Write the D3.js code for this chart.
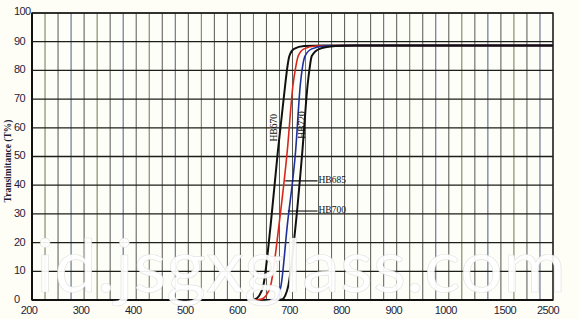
<!DOCTYPE html>
<html>
<head>
<meta charset="utf-8">
<script src="https://d3js.org/d3.v7.min.js"></script>
<style>
  body { margin: 0; background: #fffef6; }
  svg { display: block; }
</style>
</head>
<body>
<script>
  // tick values on the (piecewise) wavelength axis
  var xTicks = [200, 300, 400, 500, 600, 700, 800, 900, 1000, 1500, 2500];
  var yTicks = [0, 10, 20, 30, 40, 50, 60, 70, 80, 90, 100];

  // transmittance curves
  var hb670nm = [615, 628, 636, 644, 658, 672, 686, 690, 694, 703, 722, 760, 1000, 2500];
  var hb670t  = [0, 0.3, 1.5, 5, 26, 52, 75, 81, 85, 87.5, 88.5, 88.7, 88.7, 88.7];
  var hb685nm = [628, 641, 649, 658, 674, 690, 701, 706, 711, 722, 745, 790, 1000, 2500];
  var hb685t  = [0, 0.3, 1.5, 5, 26, 52, 75, 81, 85, 87.5, 88.5, 88.7, 88.7, 88.7];
  var hb700nm = [658, 668, 673, 678, 690, 706, 715, 719, 724, 737, 762, 800, 1000, 2500];
  var hb700t  = [0, 0.3, 1.5, 5, 26, 52, 75, 81, 85, 87.5, 88.5, 88.7, 88.7, 88.7];
  var hb720nm = [670, 681, 686, 692, 706, 719, 729, 733, 737, 752, 782, 820, 1000, 2500];
  var hb720t  = [0, 0.3, 1.5, 5, 26, 52, 75, 81, 85, 87.5, 88.5, 88.7, 88.7, 88.7];

  var series = [
    { name: "HB670", nm: hb670nm, t: hb670t, color: "#111" },
    { name: "HB685", nm: hb685nm, t: hb685t, color: "#d8261e" },
    { name: "HB700", nm: hb700nm, t: hb700t, color: "#1f2f9c" },
    { name: "HB720", nm: hb720nm, t: hb720t, color: "#111" }
  ];

  var W = 579, H = 319;
  var pLeft = 32, pRight = 553, pTop = 13, pBottom = 300;

  // the grid is uniform in pixels, but the wavelength steps change after 1000 and 1500
  var x = d3.scaleLinear()
    .domain([200, 1000, 1500, 2500])
    .range([pLeft, pLeft + (pRight - pLeft) * 32 / 40, pLeft + (pRight - pLeft) * 36 / 40, pRight]);
  var y = d3.scaleLinear().domain([0, 100]).range([pBottom, pTop]);

  var svg = d3.select("body").append("svg")
    .attr("width", W)
    .attr("height", H);

  svg.append("rect")
    .attr("x", pLeft).attr("y", pTop)
    .attr("width", pRight - pLeft).attr("height", pBottom - pTop)
    .attr("fill", "#fdfef8");

  // vertical grid: 25 nm up to 1000, then 125, then 250
  var vLines = d3.range(200, 1000, 25)
    .concat(d3.range(1000, 1500, 125))
    .concat(d3.range(1500, 2501, 250));
  var vColors = ["#3a3a34", "#5b6030", "#3a3a34", "#34406e"];

  svg.append("g").selectAll("line")
    .data(vLines)
    .enter().append("line")
    .attr("x1", function(d) { return x(d); })
    .attr("x2", function(d) { return x(d); })
    .attr("y1", pTop).attr("y2", pBottom)
    .attr("stroke", function(d, i) { return vColors[i % 4]; })
    .attr("stroke-width", 1)
    .attr("opacity", 0.85);

  svg.append("g").selectAll("line")
    .data(yTicks)
    .enter().append("line")
    .attr("x1", pLeft).attr("x2", pRight)
    .attr("y1", function(d) { return y(d); })
    .attr("y2", function(d) { return y(d); })
    .attr("stroke", "#1e1e18")
    .attr("stroke-width", 1.3);

  // frame
  svg.append("rect")
    .attr("x", pLeft).attr("y", pTop)
    .attr("width", pRight - pLeft).attr("height", pBottom - pTop)
    .attr("fill", "none")
    .attr("stroke", "#222")
    .attr("stroke-width", 1.4);
  svg.append("line")
    .attr("x1", pLeft).attr("x2", pLeft).attr("y1", pTop).attr("y2", pBottom)
    .attr("stroke", "#111").attr("stroke-width", 2);
  svg.append("line")
    .attr("x1", pLeft).attr("x2", pRight).attr("y1", pBottom).attr("y2", pBottom)
    .attr("stroke", "#111").attr("stroke-width", 2);

  // curves
  var line = d3.line()
    .x(function(d) { return x(d[0]); })
    .y(function(d) { return y(d[1]); })
    .curve(d3.curveMonotoneX);

  svg.append("g").selectAll("path")
    .data(series)
    .enter().append("path")
    .attr("d", function(s) { return line(d3.zip(s.nm, s.t)); })
    .attr("fill", "none")
    .attr("stroke", function(s) { return s.color; })
    .attr("stroke-width", function(s) { return s.color === "#111" ? 2 : 1.6; });

  // curve labels
  var rotLabels = [
    { text: "HB670", nm: 667, t: 60 },
    { text: "HB720", nm: 719, t: 61 }
  ];
  svg.append("g").selectAll("text")
    .data(rotLabels)
    .enter().append("text")
    .attr("transform", function(d) { return "translate(" + x(d.nm) + "," + y(d.t) + ") rotate(-90)"; })
    .attr("text-anchor", "middle")
    .attr("dominant-baseline", "middle")
    .attr("font-family", "Liberation Serif, serif")
    .attr("font-size", 9.5)
    .attr("fill", "#111")
    .text(function(d) { return d.text; });

  var leaders = [
    { text: "HB685", nm0: 686, nm1: 748, t: 41.5 },
    { text: "HB700", nm0: 691, nm1: 748, t: 31 }
  ];
  var lg = svg.append("g").selectAll("g")
    .data(leaders)
    .enter().append("g");
  lg.append("line")
    .attr("x1", function(d) { return x(d.nm0); })
    .attr("x2", function(d) { return x(d.nm1); })
    .attr("y1", function(d) { return y(d.t); })
    .attr("y2", function(d) { return y(d.t); })
    .attr("stroke", "#111")
    .attr("stroke-width", 1.1);
  lg.append("text")
    .attr("x", function(d) { return x(d.nm1) + 1; })
    .attr("y", function(d) { return y(d.t); })
    .attr("dominant-baseline", "middle")
    .attr("font-family", "Liberation Serif, serif")
    .attr("font-size", 9.5)
    .attr("fill", "#111")
    .text(function(d) { return d.text; });

  // axis labels
  var labelShift = { 1500: 4, 2500: -5 };
  svg.append("g").selectAll("text")
    .data(xTicks)
    .enter().append("text")
    .attr("x", function(d) { return x(d) + (labelShift[d] !== undefined ? labelShift[d] : -3); })
    .attr("y", 314)
    .attr("text-anchor", "middle")
    .attr("font-family", "Liberation Sans, Arial, sans-serif")
    .attr("font-size", 11)
    .attr("letter-spacing", -0.6)
    .attr("fill", "#1d1d3a")
    .text(function(d) { return d; });

  svg.append("g").selectAll("text")
    .data(yTicks)
    .enter().append("text")
    .attr("x", 14)
    .attr("y", function(d) { return y(d) + (d === 100 ? -1 : 0); })
    .attr("dominant-baseline", "middle")
    .attr("font-family", "Liberation Sans, Arial, sans-serif")
    .attr("font-size", 11)
    .attr("letter-spacing", -0.6)
    .attr("fill", "#1d1d3a")
    .text(function(d) { return d; });

  svg.append("text")
    .attr("transform", "translate(9,161) rotate(-90)")
    .attr("text-anchor", "middle")
    .attr("dominant-baseline", "middle")
    .attr("font-family", "Liberation Serif, serif")
    .attr("font-weight", "bold")
    .attr("font-size", 9.5)
    .attr("fill", "#1d1d3a")
    .text("Transimitance  (T%)");

  // watermark
  svg.append("text")
    .attr("x", 36)
    .attr("y", 292)
    .attr("textLength", 530)
    .attr("lengthAdjust", "spacingAndGlyphs")
    .attr("font-family", "Lato, Liberation Sans, sans-serif")
    .attr("font-weight", 400)
    .attr("font-size", 74)
    .attr("fill", "#ffffff")
    .attr("fill-opacity", 0.92)
    .attr("stroke", "#d4d4d4")
    .attr("stroke-width", 0.7)
    .attr("stroke-opacity", 0.6)
    .text("id.jsgxglass.com");
</script>
</body>
</html>
